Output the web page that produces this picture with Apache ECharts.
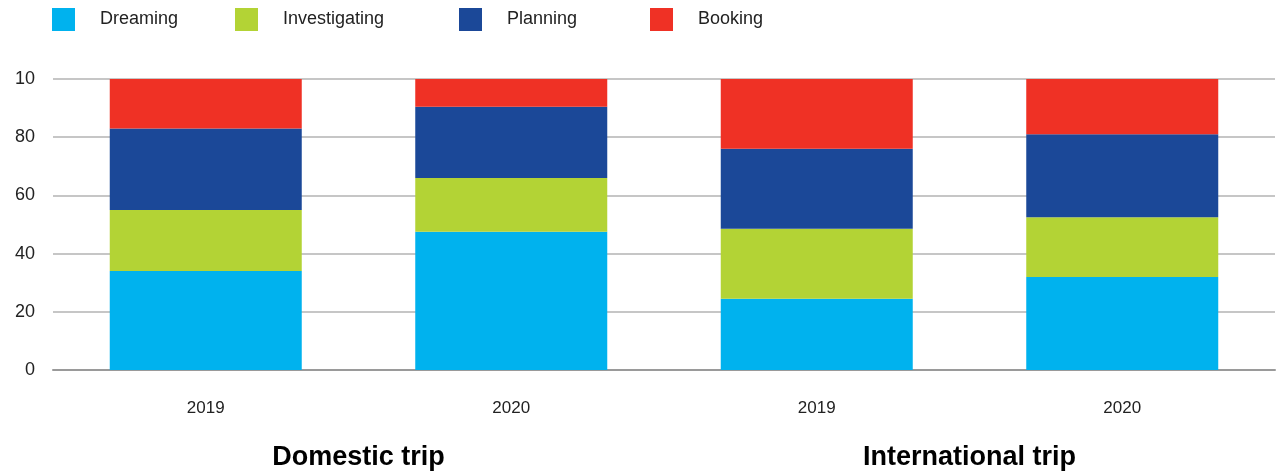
<!DOCTYPE html>
<html>
<head>
<meta charset="utf-8">
<script src="https://cdn.jsdelivr.net/npm/echarts@6/dist/echarts.min.js"></script>
<style>
  html, body { margin: 0; padding: 0; background: #fff; }
  #chart { width: 1277px; height: 471px; }
</style>
</head>
<body>
<div id="chart"></div>
<script>
// bar order: Domestic 2019, Domestic 2020, International 2019, International 2020
const years = ['2019', '2020', '2019 ', '2020 '];
const groups = ['Domestic trip', 'International trip'];
const dreaming = [34, 47.5, 24.5, 32];
const investigating = [21, 18.5, 24, 20.5];
const planning = [28, 24.5, 27.5, 28.5];
const booking = [17, 9.5, 24, 19];
const yTickLabels = ['0', '20', '40', '60', '80', '10'];

const colors = {
  Dreaming: '#00B2EE',
  Investigating: '#B3D335',
  Planning: '#1B4898',
  Booking: '#EF3125'
};

const font = '"Liberation Sans", Arial, sans-serif';

function legendItem(name, left) {
  return {
    data: [name],
    left: left,
    top: 8,
    padding: 0,
    itemWidth: 23,
    itemHeight: 23,
    icon: 'rect',
    selectedMode: false,
    textStyle: { fontFamily: font, fontSize: 18, color: '#222', padding: [0, 0, 0, 20] }
  };
}

function barSeries(name, data) {
  return {
    name: name,
    type: 'bar',
    stack: 'total',
    barWidth: 192,
    data: data,
    itemStyle: { color: colors[name] },
    emphasis: { disabled: true }
  };
}

const chart = echarts.init(document.getElementById('chart'));
chart.setOption({
  animation: false,
  legend: [
    legendItem('Dreaming', 52),
    legendItem('Investigating', 235),
    legendItem('Planning', 459),
    legendItem('Booking', 650)
  ],
  grid: { left: 53, right: 2, top: 79, bottom: 99 },
  xAxis: [
    {
      type: 'category',
      data: years,
      axisLine: { show: true, lineStyle: { color: '#9a9a9a', width: 2 } },
      axisTick: { show: false },
      axisLabel: {
        color: '#222', fontFamily: font, fontSize: 17, margin: 30,
        formatter: v => v.trim()
      }
    },
    {
      type: 'category',
      data: groups,
      position: 'bottom',
      offset: 66,
      axisLine: { show: false },
      axisTick: { show: false },
      axisLabel: { color: '#000', fontFamily: font, fontSize: 27, fontWeight: 'bold' }
    }
  ],
  yAxis: {
    type: 'value',
    min: 0,
    max: 100,
    interval: 20,
    axisLine: { show: false },
    axisTick: { show: false },
    axisLabel: {
      color: '#222', fontFamily: font, fontSize: 18, margin: 18,
      formatter: (v, i) => yTickLabels[i]
    },
    splitLine: { lineStyle: { color: '#b3b3b3', width: 1.5 } }
  },
  series: [
    barSeries('Dreaming', dreaming),
    barSeries('Investigating', investigating),
    barSeries('Planning', planning),
    barSeries('Booking', booking)
  ]
});
</script>
</body>
</html>
